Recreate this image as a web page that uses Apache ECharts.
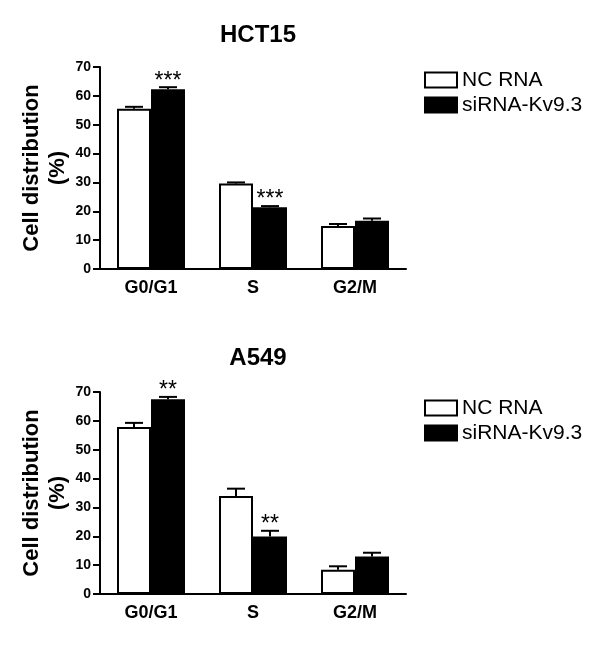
<!DOCTYPE html>
<html lang="en">
<head>
<meta charset="UTF-8">
<title>Cell distribution</title>
<script src="https://cdn.jsdelivr.net/npm/echarts@6/dist/echarts.min.js"></script>
<style>
  html, body { margin: 0; padding: 0; background: #fff; }
</style>
</head>
<body>
<div id="main" style="width: 600px;height:663px;"></div>
<script>
// data
var phases = ['G0/G1', 'S', 'G2/M'];
var yTicks = [0, 10, 20, 30, 40, 50, 60, 70];

var hctNC = [55.5, 29.6, 14.9];
var hctNCErr = [0.7, 0.4, 0.7];
var hctSi = [62.3, 21.4, 16.7];
var hctSiErr = [0.7, 0.4, 0.8];
var hctSig = ['***', '***', ''];

var a549NC = [57.9, 34.0, 8.4];
var a549NCErr = [1.4, 2.5, 1.2];
var a549Si = [67.5, 19.9, 13.0];
var a549SiErr = [0.8, 2.0, 1.3];
var a549Sig = ['**', '**', ''];

var FONT = 'Liberation Sans, Arial, sans-serif';
var BAR_W = 34;

var myChart = echarts.init(document.getElementById('main'));

function yAxis(idx) {
    return {
        gridIndex: idx,
        type: 'value',
        min: yTicks[0],
        max: yTicks[yTicks.length - 1],
        interval: 10,
        name: 'Cell distribution\n(%)',
        nameLocation: 'middle',
        nameRotate: 90,
        nameGap: 29,
        nameMoveOverlap: false,
        nameTextStyle: { fontFamily: FONT, fontWeight: 'bold', fontSize: 22, lineHeight: 26, color: '#000' },
        axisLine: { show: true, lineStyle: { color: '#000', width: 2 } },
        axisTick: { show: true, length: 7, lineStyle: { color: '#000', width: 2 } },
        axisLabel: { fontFamily: FONT, fontWeight: 'bold', fontSize: 14, color: '#000', margin: 9 },
        splitLine: { show: false }
    };
}

function xAxis(idx) {
    return {
        gridIndex: idx,
        type: 'category',
        data: phases,
        axisLine: { lineStyle: { color: '#000', width: 2 } },
        axisTick: { alignWithLabel: true, length: 5, lineStyle: { color: '#000', width: 2 } },
        axisLabel: { fontFamily: FONT, fontWeight: 'bold', fontSize: 18, color: '#000', margin: 10 }
    };
}

function barSeries(idx, name, values, fill) {
    return {
        name: name,
        type: 'bar',
        xAxisIndex: idx,
        yAxisIndex: idx,
        data: values,
        barWidth: BAR_W,
        barGap: '0%',
        itemStyle: { color: fill, borderColor: '#000', borderWidth: 2 },
        emphasis: { disabled: true }
    };
}

// error bars (upper half only) plus the significance stars
function errSeries(idx, means, errs, sigs, side) {
    var rows = means.map(function (m, i) { return [i, m, errs[i]]; });
    return {
        type: 'custom',
        xAxisIndex: idx,
        yAxisIndex: idx,
        z: 5,
        silent: true,
        data: rows,
        renderItem: function (params, api) {
            var i = api.value(0), m = api.value(1), e = api.value(2);
            var base = api.coord([i, m]);
            var top = api.coord([i, m + e]);
            var x = base[0] + side * BAR_W / 2;
            var cap = 9;
            var kids = [
                { type: 'line', shape: { x1: x, y1: base[1], x2: x, y2: top[1] }, style: { stroke: '#000', lineWidth: 2 } },
                { type: 'line', shape: { x1: x - cap, y1: top[1], x2: x + cap, y2: top[1] }, style: { stroke: '#000', lineWidth: 2 } }
            ];
            var s = sigs ? sigs[params.dataIndex] : '';
            if (s) {
                kids.push({
                    type: 'text',
                    style: {
                        x: x, y: top[1] - 6, text: s,
                        fontFamily: FONT, fontSize: 23, fill: '#000',
                        align: 'center', verticalAlign: 'middle'
                    }
                });
            }
            return { type: 'group', children: kids };
        }
    };
}

function legend(top) {
    return {
        orient: 'vertical',
        left: 424,
        top: top,
        padding: 0,
        itemWidth: 32,
        itemHeight: 15,
        itemGap: 3,
        icon: 'rect',
        selectedMode: false,
        data: ['NC RNA', 'siRNA-Kv9.3'],
        textStyle: { fontFamily: FONT, fontSize: 21, lineHeight: 22, color: '#000' }
    };
}

var option = {
    animation: false,
    title: [
        { text: 'HCT15', left: 253, top: 18, textAlign: 'center', textStyle: { fontFamily: FONT, fontWeight: 'bold', fontSize: 24, color: '#000' } },
        { text: 'A549', left: 253, top: 341, textAlign: 'center', textStyle: { fontFamily: FONT, fontWeight: 'bold', fontSize: 24, color: '#000' } }
    ],
    legend: [legend(69), legend(397)],
    grid: [
        { left: 100, width: 306, top: 67, height: 202 },
        { left: 100, width: 306, top: 392, height: 202 }
    ],
    xAxis: [xAxis(0), xAxis(1)],
    yAxis: [yAxis(0), yAxis(1)],
    series: [
        barSeries(0, 'NC RNA', hctNC, '#fff'),
        barSeries(0, 'siRNA-Kv9.3', hctSi, '#000'),
        errSeries(0, hctNC, hctNCErr, null, -1),
        errSeries(0, hctSi, hctSiErr, hctSig, 1),
        barSeries(1, 'NC RNA', a549NC, '#fff'),
        barSeries(1, 'siRNA-Kv9.3', a549Si, '#000'),
        errSeries(1, a549NC, a549NCErr, null, -1),
        errSeries(1, a549Si, a549SiErr, a549Sig, 1)
    ]
};

myChart.setOption(option);
</script>
</body>
</html>
